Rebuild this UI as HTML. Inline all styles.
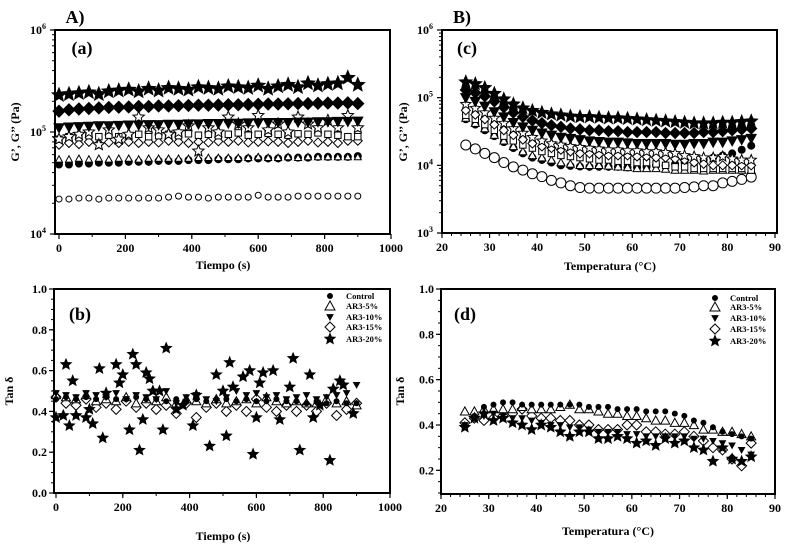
<!DOCTYPE html>
<html><head><meta charset="utf-8"><style>
html,body{margin:0;padding:0;background:#fff;}
svg{display:block;font-family:"Liberation Serif",serif;font-weight:bold;}
</style></head><body>
<svg id="fig" width="800" height="546" viewBox="0 0 800 546" xmlns="http://www.w3.org/2000/svg"></svg>
<script>
// ---------- data ----------
const timeA = [0,30,60,90,120,150,180,210,240,270,300,330,360,390,420,450,480,510,540,570,600,630,660,690,720,750,780,810,840,870,900];
const tempC = [25,27,29,31,33,35,37,39,41,43,45,47,49,51,53,55,57,59,61,63,65,67,69,71,73,75,77,79,81,83,85];
// Panel (a) values in kPa
const aCtrlG1 = [48,48,49,49,50,50,50,51,51,51,52,52,52,53,53,53,54,54,54,55,55,55,55,56,56,56,57,57,57,57,58];
const aCtrlG2 = [22,22,22.5,22.5,22,22.5,22.5,22.5,22.5,22.5,22.5,23,23.5,23,23,22.5,23,23,23,23,24,23,23,23,23.5,23.5,23.5,23.5,23.5,23.5,23.5];
const a5G2 = [54,54,55,54,55,54,55,55,54,55,55,55,55,55,56,56,56,56,56,56,57,56,56,57,56,57,57,57,57,57,57];
const a15G2 = [75,78,76,80,77,79,78,80,78,80,79,82,80,78,80,79,81,80,82,79,80,81,80,78,80,82,79,80,78,82,82];
const a10G2 = [85,90,88,92,90,93,90,92,95,90,92,95,92,96,93,95,92,95,98,93,95,97,95,93,96,95,98,95,93,90,90];
const a20G2 = [85,90,95,100,75,105,85,95,140,110,105,95,100,115,65,110,100,140,120,110,145,105,120,100,140,120,110,130,110,145,110];
const a10G1 = [110,112,113,114,115,115,116,117,117,118,118,119,119,120,120,121,121,122,122,123,123,124,124,124,125,125,126,126,127,127,128];
const a15G1 = [160,165,168,170,172,174,175,176,178,178,180,180,181,182,183,183,184,185,185,186,187,188,188,189,190,190,191,192,192,193,190];
const a20G1 = [230,235,240,245,235,250,255,260,250,265,255,270,265,260,275,270,265,280,275,270,285,265,280,290,275,300,285,295,300,340,290];
// Panel (c) values in kPa
const cCtrlG2 = [20,17.5,15,13,11,9.5,8.5,7.5,6.8,6.0,5.5,5.0,4.7,4.6,4.6,4.6,4.6,4.6,4.6,4.6,4.6,4.6,4.6,4.7,4.8,5.0,5.0,5.5,5.8,6.2,6.7];
const cCtrlG1 = [48,40,33,27,22,18,15,13,12,11,10,9.8,9.6,9.5,9.5,9.5,9.5,9.3,9.3,9.5,10,10,10.5,11,11,12,13,14,15,17,19.5];
const c5G2 = [50,42,35,28,23,19,16,14,13,12,11,10.5,10,10,10,9.8,9.5,9.3,9,9,9,8.8,8.5,8.5,8.5,8.3,8.5,8.5,8.5,8.5,8.5];
const c10G2 = [55,48,40,33,27,23,20,18,16,15,14,13.5,13,12.5,12,12,11.5,11.5,11,11,10.5,10,9.5,9.5,9,9,9,9,9,9,8.5];
const c15G2 = [65,56,48,40,33,28,24,21,19,18,17,16,15,15,14.5,14,14,14,13.5,13.5,13,13,12.5,12,11,10.5,10,10,10,10,10];
const c20G2 = [80,70,60,50,42,35,30,26,23,21,20,19,18.5,18,17.5,17,17,16.5,16.5,16,16,15.5,15,14,13.5,13,13,13.5,12.5,12,12];
const c10G1 = [100,88,75,62,52,43,37,33,30,28,26,25,24,23,22.5,22,22,21.5,21,21,21,21,20.5,20.5,21,21,22,22,23,24,25];
const c15G1 = [130,118,105,88,72,60,52,46,42,39,37,35,34,33,33,32,32,31,31,31,31,30,30,30,30,31,31,32,33,34,35];
const c20G1 = [170,160,140,115,95,80,70,64,60,57,55,53,52,52,51,50,50,49,48,47,46,45,44,43,42,42,42,43,43,44,45];
// Panel (b) tan delta
const bCtrl = [0.46,0.47,0.46,0.47,0.46,0.47,0.46,0.46,0.47,0.46,0.46,0.45,0.46,0.45,0.46,0.45,0.46,0.46,0.45,0.46,0.45,0.45,0.46,0.45,0.45,0.44,0.45,0.44,0.45,0.44,0.44];
const b5 = [0.48,0.47,0.46,0.48,0.45,0.46,0.45,0.47,0.44,0.46,0.45,0.47,0.44,0.46,0.45,0.44,0.46,0.44,0.45,0.46,0.44,0.47,0.45,0.44,0.45,0.44,0.44,0.46,0.44,0.45,0.43];
const b10 = [0.49,0.48,0.47,0.49,0.48,0.47,0.49,0.46,0.48,0.47,0.46,0.5,0.44,0.47,0.48,0.46,0.45,0.47,0.5,0.48,0.49,0.47,0.48,0.46,0.47,0.48,0.46,0.47,0.48,0.49,0.53];
const b15 = [0.47,0.44,0.43,0.46,0.42,0.44,0.41,0.45,0.42,0.44,0.41,0.43,0.39,0.44,0.37,0.42,0.44,0.40,0.43,0.40,0.46,0.42,0.40,0.43,0.40,0.43,0.40,0.44,0.38,0.41,0.44];
const tStar = [0,22,30,40,50,60,90,100,110,130,140,150,180,190,200,220,230,240,250,260,270,280,290,310,320,330,360,380,410,420,460,480,500,510,520,530,560,580,590,600,610,620,650,670,700,710,730,760,770,790,820,830,850,860,890];
const bStar = [0.37,0.38,0.63,0.33,0.55,0.38,0.37,0.41,0.34,0.61,0.27,0.49,0.63,0.54,0.58,0.31,0.68,0.63,0.21,0.36,0.59,0.56,0.5,0.5,0.31,0.71,0.41,0.43,0.33,0.48,0.23,0.58,0.5,0.28,0.64,0.52,0.57,0.6,0.19,0.37,0.54,0.59,0.6,0.36,0.52,0.66,0.21,0.58,0.37,0.43,0.16,0.51,0.55,0.53,0.39];
// Panel (d) tan delta
const dCtrl = [0.39,0.44,0.48,0.49,0.50,0.50,0.49,0.49,0.49,0.49,0.49,0.49,0.49,0.48,0.48,0.48,0.47,0.47,0.47,0.46,0.46,0.46,0.45,0.44,0.42,0.41,0.39,0.37,0.36,0.35,0.34];
const d5 = [0.46,0.46,0.47,0.47,0.47,0.47,0.48,0.47,0.47,0.47,0.48,0.49,0.47,0.47,0.46,0.45,0.45,0.44,0.44,0.43,0.42,0.42,0.41,0.41,0.40,0.38,0.38,0.37,0.37,0.36,0.35];
const d10 = [0.40,0.43,0.44,0.45,0.44,0.43,0.43,0.42,0.41,0.40,0.40,0.39,0.39,0.38,0.37,0.37,0.37,0.36,0.36,0.35,0.35,0.35,0.35,0.35,0.34,0.34,0.33,0.32,0.31,0.29,0.27];
const d15 = [0.41,0.43,0.42,0.43,0.44,0.45,0.47,0.44,0.43,0.43,0.42,0.42,0.40,0.40,0.38,0.38,0.38,0.40,0.40,0.37,0.37,0.36,0.36,0.37,0.35,0.33,0.30,0.29,0.25,0.22,0.32];
const d20 = [0.39,0.43,0.45,0.42,0.43,0.41,0.40,0.38,0.40,0.39,0.37,0.35,0.37,0.37,0.34,0.34,0.35,0.34,0.32,0.33,0.31,0.34,0.32,0.33,0.30,0.29,0.24,0.30,0.25,0.24,0.26];
const timeTicks = [0,200,400,600,800,1000];
const tempTicks = [20,30,40,50,60,70,80,90];
const tanTicksB = ["0.0","0.2","0.4","0.6","0.8","1.0"];
const tanTicksD = ["0.2","0.4","0.6","0.8","1.0"];
const legendNames = ["Control","AR3-5%","AR3-10%","AR3-15%","AR3-20%"];

// ---------- helpers ----------
const NS = "http://www.w3.org/2000/svg";
const svg = document.getElementById('fig');
function mk(tag, attrs, parent){const e=document.createElementNS(NS,tag);for(const k in attrs)e.setAttribute(k,attrs[k]);(parent||svg).appendChild(e);return e;}
function txt(x,y,s,size,anchor,parent){const t=mk('text',{x:x,y:y,'font-size':size,'text-anchor':anchor||'middle',fill:'#000'},parent);t.textContent=s;return t;}
function linScale(d0,d1,r0,r1){return v=>r0+(v-d0)/(d1-d0)*(r1-r0);}
function logScale(d0,d1,r0,r1){return v=>r0+(Math.log10(v)-Math.log10(d0))/(Math.log10(d1)-Math.log10(d0))*(r1-r0);}
function starPts(cx,cy,r){let p=[];for(let i=0;i<10;i++){const a=-Math.PI/2+i*Math.PI/5;const rr=i%2?r*0.45:r;p.push((cx+rr*Math.cos(a)).toFixed(1)+','+(cy+rr*Math.sin(a)).toFixed(1));}return p.join(' ');}
function marker(g,shape,filled,cx,cy,r){
  const f=filled?'#000':'#fff', st={fill:f,stroke:'#000','stroke-width':1};
  let e;
  if(shape==='circle') e=mk('circle',Object.assign({cx:cx,cy:cy,r:r},st),g);
  else if(shape==='tri') e=mk('polygon',Object.assign({points:`${cx},${cy-r} ${cx+r},${cy+r*0.8} ${cx-r},${cy+r*0.8}`},st),g);
  else if(shape==='dtri') e=mk('polygon',Object.assign({points:`${cx-r},${cy-r*0.8} ${cx+r},${cy-r*0.8} ${cx},${cy+r}`},st),g);
  else if(shape==='diamond') e=mk('polygon',Object.assign({points:`${cx},${cy-r} ${cx+r},${cy} ${cx},${cy+r} ${cx-r},${cy}`},st),g);
  else if(shape==='square') e=mk('rect',Object.assign({x:cx-r*0.8,y:cy-r*0.8,width:r*1.6,height:r*1.6},st),g);
  else e=mk('polygon',Object.assign({points:starPts(cx,cy,r*1.2)},st),g);
  return e;
}
function series(name,xs,ys,X,Y,shape,filled,r,mult){
  const g=mk('g',{});
  
  
  for(let i=0;i<ys.length;i++) marker(g,shape,filled,X(xs[i]),Y(ys[i]*(mult||1)),r);
}
function frame(name,x0,y0,x1,y1){
  const r=mk('rect',{x:x0,y:y0,width:x1-x0,height:y1-y0,fill:'none',stroke:'#000','stroke-width':2});
  
  
}
function xAxis(name,ticks,X,y,minorStep,lo,hi){
  const g=mk('g',{});
  
  
  ticks.forEach(t=>{mk('line',{x1:X(t),x2:X(t),y1:y,y2:y+5,stroke:'#000','stroke-width':1.2},g);txt(X(t),y+18,String(t),12,'middle',g);});
  for(let v=lo;v<=hi+1e-9;v+=minorStep) mk('line',{x1:X(v),x2:X(v),y1:y,y2:y+3,stroke:'#000','stroke-width':1},g);
}
function yAxisLin(name,labels,Y,x,minorStep,lo,hi){
  const g=mk('g',{});
  
  
  labels.forEach(l=>{const v=parseFloat(l);mk('line',{x1:x-5,x2:x,y1:Y(v),y2:Y(v),stroke:'#000','stroke-width':1.2},g);txt(x-7,Y(v)+4,l,12,'end',g);});
  for(let v=lo;v<=hi+1e-9;v+=minorStep) mk('line',{x1:x-3,x2:x,y1:Y(v),y2:Y(v),stroke:'#000','stroke-width':1},g);
}
function yAxisLog(name,e0,e1,Y,x){
  const g=mk('g',{});
  
  
  for(let e=e0;e<=e1;e++){
    const y=Y(Math.pow(10,e));
    mk('line',{x1:x-5,x2:x,y1:y,y2:y,stroke:'#000','stroke-width':1.2},g);
    const t=txt(x-17,y+4,'10',12,'middle',g);
    const s=mk('tspan',{dy:-5,'font-size':8},t); s.textContent=String(e);
    if(e<e1) for(let m=2;m<=9;m++){const yy=Y(m*Math.pow(10,e));mk('line',{x1:x-3,x2:x,y1:yy,y2:yy,stroke:'#000','stroke-width':1},g);}
  }
}
function label(name,x,y,s,size,rot){
  const t=txt(x,y,s,size,'middle');
  if(rot) t.setAttribute('transform',`rotate(-90 ${x} ${y})`);
  
  
}

// ---------- panel (a) ----------
const XA=linScale(0,1000,59,391), YA=logScale(1e4,1e6,234,30);
frame('panel-a-frame',55,30,390,234);
yAxisLog('panel-a-y-axis',4,6,YA,55);
xAxis('panel-a-x-axis',timeTicks,XA,234,100,0,1000);
series('a-control-g2',timeA,aCtrlG2,XA,YA,'circle',false,3,1000);
series('a-control-g1',timeA,aCtrlG1,XA,YA,'circle',true,3.5,1000);
series('a-ar5-g2',timeA,a5G2,XA,YA,'tri',false,3.5,1000);
series('a-ar15-g2',timeA,a15G2,XA,YA,'diamond',false,4.5,1000);
series('a-ar10-g2',timeA,a10G2,XA,YA,'square',false,4,1000);
series('a-ar20-g2',timeA,a20G2,XA,YA,'star',false,5,1000);
series('a-ar10-g1',timeA,a10G1,XA,YA,'dtri',true,5,1000);
series('a-ar15-g1',timeA,a15G1,XA,YA,'diamond',true,6,1000);
series('a-ar20-g1',timeA,a20G1,XA,YA,'star',true,6,1000);
label('panel-a-tag',82,54,'(a)',18);
label('panel-A-heading',75,23,'A)',18);
label('panel-a-y-title',19,132,"G\u2019, G\u2019\u2019 (Pa)",12,true);
label('panel-a-x-title',223,269,'Tiempo (s)',12);

// ---------- panel (c) ----------
const XC=linScale(20,90,442,775), YC=logScale(1e3,1e6,233,30);
frame('panel-c-frame',442,30,777,233);
yAxisLog('panel-c-y-axis',3,6,YC,442);
xAxis('panel-c-x-axis',tempTicks,XC,233,2,20,90);
series('c-control-g2',tempC,cCtrlG2,XC,YC,'circle',false,5,1000);
series('c-control-g1',tempC,cCtrlG1,XC,YC,'circle',true,3.5,1000);
series('c-ar5-g2',tempC,c5G2,XC,YC,'tri',false,4,1000);
series('c-ar10-g2',tempC,c10G2,XC,YC,'square',false,4,1000);
series('c-ar15-g2',tempC,c15G2,XC,YC,'diamond',false,4.5,1000);
series('c-ar20-g2',tempC,c20G2,XC,YC,'star',false,4.5,1000);
series('c-ar10-g1',tempC,c10G1,XC,YC,'dtri',true,5,1000);
series('c-ar15-g1',tempC,c15G1,XC,YC,'diamond',true,5.5,1000);
series('c-ar20-g1',tempC,c20G1,XC,YC,'star',true,5.5,1000);
label('panel-c-tag',467,54,'(c)',18);
label('panel-B-heading',462,23,'B)',18);
label('panel-c-y-title',407,132,"G\u2019, G\u2019\u2019 (Pa)",12,true);
label('panel-c-x-title',610,270,'Temperatura (\u00B0C)',12);

// ---------- panel (b) ----------
const XB=linScale(0,1000,56,390), YB=linScale(0,1,493,289);
frame('panel-b-frame',54,289,390,493);
yAxisLin('panel-b-y-axis',tanTicksB,YB,54,0.05,0,1);
xAxis('panel-b-x-axis',timeTicks,XB,493,100,0,1000);
series('b-ar15',timeA,b15,XB,YB,'diamond',false,5);
series('b-ar5',timeA,b5,XB,YB,'tri',false,4.5);
series('b-control',timeA,bCtrl,XB,YB,'circle',true,2.5);
series('b-ar10',timeA,b10,XB,YB,'dtri',true,3);
series('b-ar20',tStar,bStar,XB,YB,'star',true,4.5);
label('panel-b-tag',80,320,'(b)',18);
label('panel-b-y-title',13,391,'Tan \u03B4',12,true);
label('panel-b-x-title',223,540,'Tiempo (s)',12);

// ---------- panel (d) ----------
const XD=linScale(20,90,441,775), YD=linScale(0.1,1,493,289);
frame('panel-d-frame',441,289,775,494);
yAxisLin('panel-d-y-axis',tanTicksD,YD,441,0.05,0.1,1);
xAxis('panel-d-x-axis',tempTicks,XD,494,2,20,90);
series('d-ar15',tempC,d15,XD,YD,'diamond',false,5);
series('d-ar5',tempC,d5,XD,YD,'tri',false,4.5);
series('d-control',tempC,dCtrl,XD,YD,'circle',true,2.5);
series('d-ar10',tempC,d10,XD,YD,'dtri',true,3);
series('d-ar20',tempC,d20,XD,YD,'star',true,4.5);
label('panel-d-tag',465,320,'(d)',18);
label('panel-d-y-title',404,391,'Tan \u03B4',12,true);
label('panel-d-x-title',608,535,'Temperatura (\u00B0C)',12);

// ---------- legends ----------
function legend(name,mx,tx,ys){
  const shapes=[['circle',true,2.5],['tri',false,5],['dtri',true,3],['diamond',false,5],['star',true,4.5]];
  const g=mk('g',{});
  
  
  legendNames.forEach((n,i)=>{
    const e=mk('g',{},g);
    
    
    marker(e,shapes[i][0],shapes[i][1],mx,ys[i],shapes[i][2]);
    txt(tx,ys[i]+3,n,8.5,'start',e);
  });
}
legend('panel-b-legend',330,346,[296,306,317,327,339]);
legend('panel-d-legend',715,730,[298,307,318,329,341]);
</script>
</body></html>
